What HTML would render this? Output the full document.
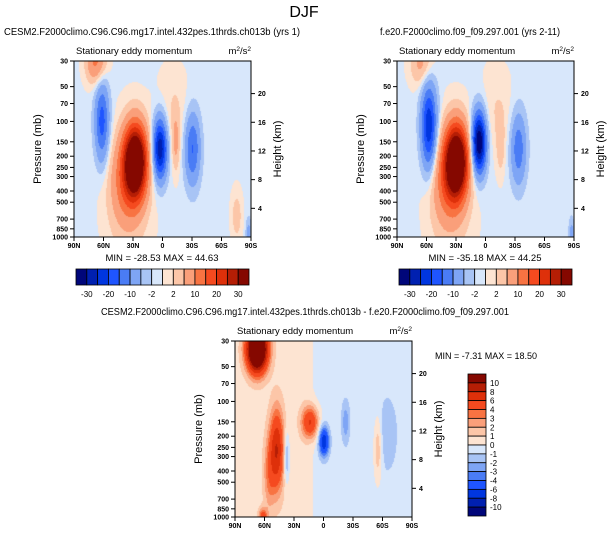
<!DOCTYPE html>
<html><head><meta charset="utf-8"><style>
html,body{margin:0;padding:0;background:#fff;width:609px;height:538px;overflow:hidden;font-family:"Liberation Sans",sans-serif}
#root{position:relative;width:609px;height:538px}
canvas{position:absolute}
svg{position:absolute;left:0;top:0}
</style></head><body>
<div id="root">
<canvas id="c1" width="177" height="176" style="left:74px;top:61px"></canvas>
<canvas id="c2" width="177" height="176" style="left:397px;top:61px"></canvas>
<canvas id="c3" width="177" height="176" style="left:235px;top:341px"></canvas>
<svg id="s" width="609" height="538"></svg>
</div>
<script>
// ---- data ----
const latTicks=["90N","60N","30N","0","30S","60S","90S"];
const latTickVals=[90,60,30,0,-30,-60,-90];
const presTicks=[30,50,70,100,150,200,250,300,400,500,700,850,1000];
const heightTicks=[20,16,12,8,4];
const levels1=[-30,-25,-20,-15,-10,-5,-2,0,2,5,10,15,20,25,30];
const cbLabels1=["-30","-20","-10","-2","2","10","20","30"];
const levels3=[-10,-8,-6,-4,-3,-2,-1,0,1,2,3,4,6,8,10];
const cbLabels3=["10","8","6","4","3","2","1","0","-1","-2","-3","-4","-6","-8","-10"];
const colors=['#00067a','#0020b0','#0036e0','#1f55ff','#4a7cf5','#7ea5f5','#a8c4f5','#d8e7fb','#fde4d2','#fcc6a8','#fa9f7a','#f87342','#f54a1f','#de300a','#b51e05','#850800'];
// blobs: [lat, pressure, latWidth, lnPWidth, amplitude]
const blobs1=[[28,220,8,0.5,46],[38,330,11,0.6,10],[35,500,16,1.0,3],[68,30,7,0.3,12],[62,100,5,0.55,-17],[3,170,5,0.42,-29],[-13,150,3,0.4,6],[-30,170,5.5,0.5,-15],[-75,650,4,0.35,4],[-10,80,12,0.6,2.5],[-87,900,2,0.2,-6]];
const bg1=[[90,-0.5],[-90,-0.5]];
const blobs2=[[30,220,8,0.5,46],[40,330,11,0.6,10],[35,500,16,1.0,3],[65,32,8,0.3,7],[58,110,5.5,0.6,-24],[7,150,5,0.42,-36],[-15,160,3,0.4,4],[-33,170,5.5,0.5,-13],[-10,80,12,0.6,2.5],[-87,900,2,0.2,-6]];
const bg2=[[90,-0.5],[-90,-0.5]];
const blobs3=[[68,35,7,0.3,20],[48,260,5,0.55,7.5],[56,420,4,0.5,2.5],[62,1000,3,0.12,5],[14,150,6,0.22,6],[0,220,3.5,0.2,-7.3],[38,300,2,0.35,-3],[-55,250,3,0.45,2.5],[-64,190,7,0.5,-1.5],[-22,150,3,0.3,-2.2]];
const bg3=[[90,0.5],[20,0.5],[5,-0.4],[-90,-0.5]];

function yOfP(p,top,h){return top+h-Math.log(1000/p)/Math.log(1000/30)*h;}
function field(lat,p,blobs,bg){
  let v=0;
  for(let i=0;i<bg.length-1;i++){if(lat<=bg[i][0]&&lat>=bg[i+1][0]){const t=(bg[i][0]-lat)/(bg[i][0]-bg[i+1][0]);v=bg[i][1]+t*(bg[i+1][1]-bg[i][1]);}}
  const lp=Math.log(p);
  for(const b of blobs){const dx=(lat-b[0])/b[2],dy=(lp-Math.log(b[1]))/b[3];v+=b[4]*Math.exp(-0.5*(dx*dx+dy*dy));}
  return v;
}
function hex(c){return [parseInt(c.substr(1,2),16),parseInt(c.substr(3,2),16),parseInt(c.substr(5,2),16)];}
function drawCanvas(id,blobs,bg,levels){
  const cv=document.getElementById(id),ctx=cv.getContext('2d'),W=cv.width,H=cv.height;
  const img=ctx.createImageData(W,H);const rgb=colors.map(hex);
  for(let j=0;j<H;j++){const p=1000*Math.exp(-(H-j)/H*Math.log(1000/30));
    for(let i=0;i<W;i++){const lat=90-i/W*180;const v=field(lat,p,blobs,bg);
      let k=0;while(k<levels.length&&v>=levels[k])k++;
      const c=rgb[k],o=(j*W+i)*4;img.data[o]=c[0];img.data[o+1]=c[1];img.data[o+2]=c[2];img.data[o+3]=255;}}
  ctx.putImageData(img,0,0);
}
drawCanvas('c1',blobs1,bg1,levels1);
drawCanvas('c2',blobs2,bg2,levels1);
drawCanvas('c3',blobs3,bg3,levels3);

const S=document.getElementById('s');const NS='http://www.w3.org/2000/svg';
function el(tag,attrs,txt){const e=document.createElementNS(NS,tag);for(const k in attrs)e.setAttribute(k,attrs[k]);if(txt!==undefined)e.textContent=txt;S.appendChild(e);return e;}
function txt(x,y,s,size,anchor,name,extra){const e=el('text',Object.assign({x:x,y:y,'font-size':size,'text-anchor':anchor||'start',fill:'#000'},extra||{}),s);
  
  return e;}

function axes(L,T,W,H,title,n,tx,tlen){
  const r=el('rect',{x:L,y:T,width:W,height:H,fill:'none',stroke:'#000','stroke-width':1});
  
  
  txt(tx,T-26,title,10,'start','panel-title-'+n,{textLength:tlen,lengthAdjust:'spacingAndGlyphs'});
  txt(L+2,T-7,'Stationary eddy momentum',9.5,'start','subtitle-'+n);
  const u=txt(L+W,T-7,'',9.5,'end','units-'+n);
  u.innerHTML='m<tspan baseline-shift="super" font-size="6.5">2</tspan>/s<tspan baseline-shift="super" font-size="6.5">2</tspan>';
  latTicks.forEach((t,i)=>{const x=L+(90-latTickVals[i])/180*W;
    const l=el('line',{x1:x,y1:T+H,x2:x,y2:T+H+4,stroke:'#000'});
    
    
    txt(x,T+H+11,t,7,'middle','x-tick-label',{'font-weight':'bold'});});
  presTicks.forEach(p=>{const y=yOfP(p,T,H);
    const l=el('line',{x1:L-4,y1:y,x2:L,y2:y,stroke:'#000'});
    
    
    txt(L-6,y+2.5,String(p),7,'end','y-tick-label',{'font-weight':'bold'});});
  heightTicks.forEach(h=>{const p=1000*Math.exp(-h/7);const y=yOfP(p,T,H);
    const l=el('line',{x1:L+W,y1:y,x2:L+W+4,y2:y,stroke:'#000'});
    
    
    txt(L+W+7,y+2.5,String(h),7,'start','height-tick-label',{'font-weight':'bold'});});
  txt(0,0,'Pressure (mb)',11,'middle','y-axis-title-'+n,{transform:`translate(${L-33},${T+H/2}) rotate(-90)`});
  txt(0,0,'Height (km)',11,'middle','height-axis-title-'+n,{transform:`translate(${L+W+30},${T+H/2}) rotate(-90)`});
}
axes(74,61,177,176,'CESM2.F2000climo.C96.C96.mg17.intel.432pes.1thrds.ch013b (yrs 1)',1,4,296);
axes(397,61,177,176,'f.e20.F2000climo.f09_f09.297.001 (yrs 2-11)',2,380,180);
axes(235,341,177,176,'CESM2.F2000climo.C96.C96.mg17.intel.432pes.1thrds.ch013b - f.e20.F2000climo.f09_f09.297.001',3,101,408);
txt(304,17,'DJF',16,'middle','main-title');
txt(162,261,'MIN = -28.53  MAX =  44.63',9.5,'middle','minmax-1');
txt(485,261,'MIN = -35.18  MAX =  44.25',9.5,'middle','minmax-2');
txt(435,359,'MIN = -7.31  MAX =  18.50',9,'start','minmax-3');

function hbar(L,T,W,H,n){const bw=W/colors.length;
  colors.forEach((c,i)=>{const r=el('rect',{x:L+i*bw,y:T,width:bw,height:H,fill:c,stroke:'#000','stroke-width':0.8});
    
    });
  cbLabels1.forEach((t,i)=>txt(L+(2*i+1)*bw,T+H+12,t,8,'middle','colorbar-label-'+n));
}
hbar(76,269,173,16,1);hbar(399,269,173,16,2);
(function(){const L=468,T=374,W=18,H=142,bh=H/colors.length;
  colors.slice().reverse().forEach((c,i)=>{const r=el('rect',{x:L,y:T+i*bh,width:W,height:bh,fill:c,stroke:'#000','stroke-width':0.8});
    
    });
  cbLabels3.forEach((t,i)=>txt(L+W+4,T+(i+1)*bh+3,t,8,'start','colorbar-label-3'));
})();
</script>
</body></html>
